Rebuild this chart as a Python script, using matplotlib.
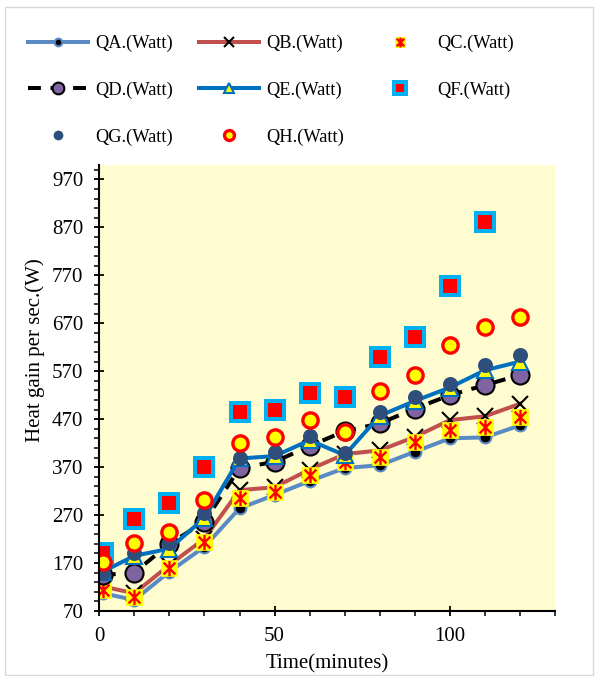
import numpy as np
import matplotlib
matplotlib.use("Agg")
import matplotlib.pyplot as plt
from matplotlib.path import Path
from matplotlib.legend_handler import HandlerTuple
from matplotlib.patches import Rectangle
from matplotlib.ticker import FixedLocator, MultipleLocator

plt.rcParams['font.family'] = ['Liberation Serif', 'DejaVu Serif']

# Heat gain per second (W) for each configuration, sampled every 10 minutes
time_min = [1, 10, 20, 30, 40, 50, 60, 70, 80, 90, 100, 110, 120]
qa = [107, 93, 152, 204, 284, 312, 341, 368, 374, 402, 430, 432, 457]
qb = [121, 107, 166, 221, 322, 328, 365, 397, 405, 433, 468, 476, 502]
qc = [114, 100, 159, 214, 305, 318, 353, 381, 391, 423, 448, 454, 474]
qd = [145, 150, 210, 256, 368, 381, 414, 445, 461, 492, 520, 541, 562]
qe = [152, 185, 200, 264, 388, 393, 426, 395, 477, 508, 536, 572, 590]
qf = [190, 262, 296, 371, 485, 490, 524, 516, 600, 641, 747, 881, np.nan]
qg = [150, 190, 211, 275, 390, 402, 435, 400, 485, 516, 544, 582, 603]
qh = [173, 211, 235, 301, 421, 433, 468, 443, 529, 562, 624, 662, 683]

labels = ['QA.(Watt)', 'QB.(Watt)', 'QC.(Watt)', 'QD.(Watt)',
          'QE.(Watt)', 'QF.(Watt)', 'QG.(Watt)', 'QH.(Watt)']

W, H = 598, 676
fig = plt.figure(figsize=(W / 100, H / 100), dpi=100)
fig.patch.set_facecolor('white')
fig.patches.append(Rectangle((5 / W, 1 / H), 588 / W, 668 / H, transform=fig.transFigure,
                             fill=False, edgecolor='#D9D9D9', lw=1.0))

ax = fig.add_axes([99.3 / W, 1 - 611 / H, (555 - 99.3) / W, (611 - 165) / H])
ax.set_facecolor('#FFFDD0')

# asterisk marker: an x with a vertical bar
star_path = Path([(-1, -1), (1, 1), (-1, 1), (1, -1), (0, -1.3), (0, 1.3)],
                 [Path.MOVETO, Path.LINETO, Path.MOVETO, Path.LINETO, Path.MOVETO, Path.LINETO])

h_a, = ax.plot(time_min, qa, color='#5A8AC6', lw=2.9, marker='o', ms=8.5,
               mfc='black', mec='#5A8AC6', mew=1.5)
h_b, = ax.plot(time_min, qb, color='#C0504D', lw=2.9, marker='x', ms=11,
               mec='black', mew=1.5)
h_c1, = ax.plot(time_min, qc, ls='none', marker='s', ms=11, mfc='#FFFF00', mec='#FFFF00', mew=0.5)
h_c2, = ax.plot(time_min, qc, ls='none', marker=star_path, ms=11, mec='#FF0000', mfc='none', mew=1.7)
h_d, = ax.plot(time_min, qd, color='black', lw=2.9, dashes=(3.2, 2.4), marker='o', ms=13,
               mfc='#8064A2', mec='black', mew=1.5)
h_e, = ax.plot(time_min, qe, color='#0070C0', lw=2.9, marker='^', ms=11,
               mfc='#FFFF00', mec='#0070C0', mew=1.5)
h_f, = ax.plot(time_min, qf, ls='none', marker='s', ms=12.7, mfc='#FF0000',
               mec='#00B0F0', mew=2.9)
h_g, = ax.plot(time_min, qg, ls='none', marker='o', ms=10.8, mfc='#2E4F7C', mec='#2E4F7C', mew=0)
h_h, = ax.plot(time_min, qh, ls='none', marker='o', ms=11, mfc='#FFFF00', mec='#FF0000', mew=2.4)

ax.set_xlim(0, 130)
ax.set_ylim(70, 1000)
ax.xaxis.set_major_locator(FixedLocator([0, 50, 100]))
ax.xaxis.set_minor_locator(MultipleLocator(10))
ax.yaxis.set_major_locator(FixedLocator(list(range(70, 1000, 100))))
ax.yaxis.set_minor_locator(FixedLocator(list(range(70, 1000, 20))))

for side in ('top', 'right'):
    ax.spines[side].set_visible(False)
for side in ('left', 'bottom'):
    ax.spines[side].set_linewidth(1.5)
    ax.spines[side].set_color('black')

ax.tick_params(which='major', direction='inout', length=7.2, width=1.3,
               labelsize=15, pad=8, colors='black')
ax.tick_params(which='minor', direction='out', length=3.6, width=1.1, colors='black')

fig.text(35 / W, 1 - 350 / H, 'Heat gain per sec.(W)', rotation=90,
         ha='center', va='center', fontsize=15)
fig.text(327 / W, 1 - 664 / H, 'Time(minutes)', ha='center', va='center', fontsize=15)

# legend laid out row by row in three columns
handles = [h_a, h_d, h_g, h_b, h_e, h_h, (h_c1, h_c2), h_f]
names = [labels[0], labels[3], labels[6], labels[1], labels[4], labels[7], labels[2], labels[5]]
fig.legend(handles, names, loc='upper left', bbox_to_anchor=(28 / W, 1 - 35 / H),
           ncol=3, frameon=False, fontsize=13.2, handlelength=3.3, handletextpad=0.36,
           columnspacing=1.42, labelspacing=1.6, borderpad=0, borderaxespad=0,
           markerscale=0.65, handler_map={tuple: HandlerTuple(ndivide=1)})

fig.savefig('out.png', dpi=100)
